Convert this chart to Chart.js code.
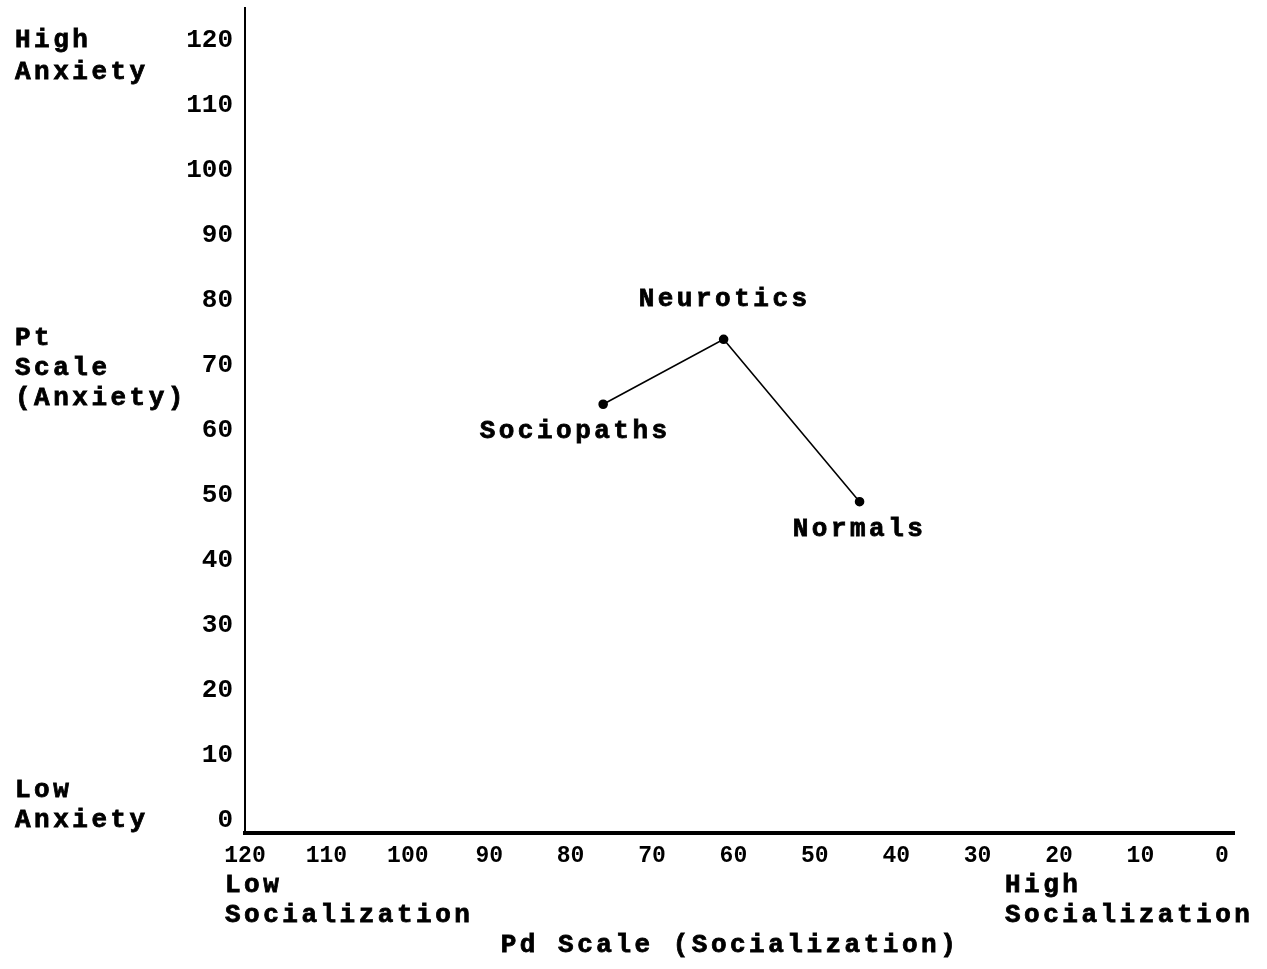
<!DOCTYPE html>
<html>
<head>
<meta charset="utf-8">
<script src="https://cdn.jsdelivr.net/npm/chart.js@4.4.1/dist/chart.umd.min.js"></script>
<style>
  html, body { margin: 0; padding: 0; background: #fff; }
  #wrap { width: 1267px; height: 969px; position: relative; }
</style>
</head>
<body>
<div id="wrap"><canvas id="c" width="1267" height="969"></canvas></div>
<script>
// ---- data ----
const groups = ["Sociopaths", "Neurotics", "Normals"];
const pdScale = [76, 61.2, 44.5];     // x: Pd Scale (Socialization)
const ptScale = [64, 74, 49];         // y: Pt Scale (Anxiety)
const xTicks = [120, 110, 100, 90, 80, 70, 60, 50, 40, 30, 20, 10, 0];
const yTicks = [0, 10, 20, 30, 40, 50, 60, 70, 80, 90, 100, 110, 120];

const FONT = "'Liberation Mono', 'DejaVu Sans Mono', monospace";

// label offsets (styling only)
const labelOffsets = [[-28, 27], [1, -40], [0, 28]];

const textPlugin = {
  id: 'texts',
  afterDraw(chart) {
    const ctx = chart.ctx;
    ctx.save();
    ctx.fillStyle = '#000';
    ctx.strokeStyle = '#000';
    ctx.lineWidth = 0.8;
    ctx.font = "bold 26px " + FONT;
    ctx.letterSpacing = '3.5px';
    ctx.textBaseline = 'middle';
    const draw = (t, x, y) => { ctx.fillText(t, x, y); ctx.strokeText(t, x, y); };
    // point labels
    const meta = chart.getDatasetMeta(0);
    ctx.textAlign = 'center';
    meta.data.forEach((pt, i) => {
      const o = labelOffsets[i];
      draw(groups[i], pt.x + o[0], pt.y + o[1]);
    });
    // axis annotations
    ctx.textAlign = 'left';
    const lines = [
      ["High", 15, 40], ["Anxiety", 15, 72],
      ["Pt", 15, 338], ["Scale", 15, 368], ["(Anxiety)", 15, 398],
      ["Low", 15, 790], ["Anxiety", 15, 820],
      ["Low", 225, 885], ["Socialization", 225, 915],
      ["High", 1005, 885], ["Socialization", 1005, 915]
    ];
    lines.forEach(l => draw(l[0], l[1], l[2]));
    ctx.textAlign = 'center';
    draw("Pd Scale (Socialization)", 730, 945);
    ctx.restore();
  }
};

new Chart(document.getElementById('c'), {
  type: 'scatter',
  data: {
    datasets: [{
      data: groups.map((g, i) => ({ x: pdScale[i], y: ptScale[i] })),
      showLine: true,
      borderColor: '#000',
      borderWidth: 1.6,
      backgroundColor: '#000',
      pointRadius: 4,
      pointHoverRadius: 4,
      tension: 0
    }]
  },
  options: {
    responsive: false,
    animation: false,
    events: [],
    layout: { padding: { left: 0, right: 33, top: 8, bottom: 0 } },
    plugins: { legend: { display: false }, tooltip: { enabled: false } },
    scales: {
      x: {
        type: 'linear',
        reverse: true,
        min: -1.5,
        max: 120,
        afterBuildTicks: s => { s.ticks = xTicks.map(v => ({ value: v })); },
        afterFit: s => { s.height = 969 - 833; s.paddingLeft = 0; s.paddingRight = 0; },
        grid: { display: false },
        border: { display: true, color: '#000', width: 4 },
        ticks: {
          color: '#000',
          padding: 1,
          maxRotation: 0,
          autoSkip: false,
          font: { family: FONT, size: 23, weight: 'bold' }
        }
      },
      y: {
        type: 'linear',
        min: -2,
        max: 125,
        afterBuildTicks: s => { s.ticks = yTicks.map(v => ({ value: v })); },
        afterFit: s => { s.width = 245; s.paddingTop = 0; s.paddingBottom = 0; },
        grid: { display: false },
        border: { display: true, color: '#000', width: 2 },
        ticks: {
          color: '#000',
          padding: 4,
          autoSkip: false,
          font: { family: FONT, size: 26, weight: 'bold' }
        }
      }
    }
  },
  plugins: [textPlugin]
});
</script>
</body>
</html>
